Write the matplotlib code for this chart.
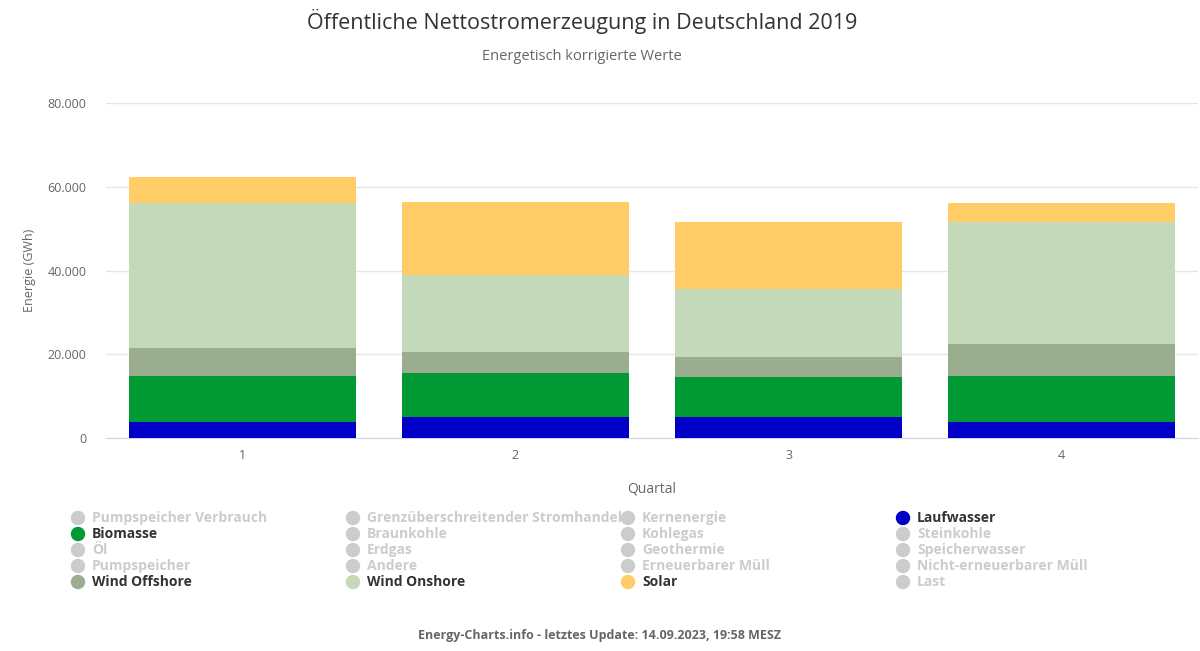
import matplotlib
matplotlib.use("Agg")
import matplotlib.pyplot as plt
from matplotlib.ticker import FuncFormatter
import numpy as np

quartale = ["1", "2", "3", "4"]
laufwasser = [3800, 5000, 5000, 3800]
biomasse = [11000, 10500, 9600, 11000]
wind_offshore = [6700, 5000, 4700, 7600]
wind_onshore = [34600, 18400, 16300, 29200]
solar = [6200, 17500, 16000, 4500]

series = [("Laufwasser", laufwasser, "#0000c8"),
          ("Biomasse", biomasse, "#009933"),
          ("Wind Offshore", wind_offshore, "#9aad8e"),
          ("Wind Onshore", wind_onshore, "#c3d9b9"),
          ("Solar", solar, "#ffcc66")]

legend_rows = [
    ["Pumpspeicher Verbrauch", "Grenzüberschreitender Stromhandel", "Kernenergie", "Laufwasser"],
    ["Biomasse", "Braunkohle", "Kohlegas", "Steinkohle"],
    ["Öl", "Erdgas", "Geothermie", "Speicherwasser"],
    ["Pumpspeicher", "Andere", "Erneuerbarer Müll", "Nicht-erneuerbarer Müll"],
    ["Wind Offshore", "Wind Onshore", "Solar", "Last"],
]
active = {n: c for n, _, c in series}

W, H = 1200, 651
fig = plt.figure(figsize=(W/100, H/100), dpi=100)
plt.rcParams['font.family'] = ['Open Sans', 'DejaVu Sans']
ax = fig.add_axes([106/W, 1-438/H, (1198-106)/W, (438-103)/H])
x = np.arange(1, 5)
bottom = np.zeros(4)
for name, vals, col in series:
    ax.bar(x, vals, 0.83, bottom=bottom, color=col, zorder=3)
    bottom += np.array(vals)
ax.set_xlim(0.5, 4.5)
ax.set_ylim(0, 80000)
ax.set_yticks([0, 20000, 40000, 60000, 80000])
ax.yaxis.set_major_formatter(FuncFormatter(lambda v, p: f"{int(v):,}".replace(",", ".")))
ax.set_xticks(x)
ax.set_xticklabels(quartale)
ax.grid(axis='y', color='#e6e6e6', lw=1, zorder=0)
for s in ['top', 'right', 'left']:
    ax.spines[s].set_visible(False)
ax.spines['bottom'].set_color('#ccd6eb')
ax.tick_params(axis='y', length=0, labelsize=9, colors='#666666', pad=14)
ax.tick_params(axis='x', length=0, labelsize=9, colors='#666666', pad=8)
ax.set_xlabel("Quartal", fontsize=10, color='#666666', labelpad=14)
ax.set_ylabel("Energie (GWh)", fontsize=9, color='#666666', labelpad=8)

fig.text(0.485, 1-22/H, "Öffentliche Nettostromerzeugung in Deutschland 2019", ha='center', va='center', fontsize=15.5, color='#333333')
fig.text(0.485, 1-56/H, "Energetisch korrigierte Werte", ha='center', va='center', fontsize=10.5, color='#666666')

cols_x = [78, 353, 628, 903]
rows_y = [518, 534, 550, 566, 582]
for r, row in enumerate(legend_rows):
    for c, name in enumerate(row):
        col = active.get(name, '#cccccc')
        tcol = '#333333' if name in active else '#cccccc'
        fig.patches.append(matplotlib.patches.Circle((cols_x[c]/W, 1-rows_y[r]/H), 6.5/W * 1.0,
                           transform=fig.transFigure, color=col, figure=fig))
        fig.text((cols_x[c]+14)/W, 1-rows_y[r]/H, name, ha='left', va='center',
                 fontsize=10, fontweight='bold', color=tcol)
# fix circle aspect
for p in fig.patches:
    p.set_transform(matplotlib.transforms.Affine2D().scale(W, H) + matplotlib.transforms.IdentityTransform())
    p.set_transform(fig.dpi_scale_trans)
for i, p in enumerate(fig.patches):
    r, c = divmod(i, 4)
    p.center = (cols_x[c]/100, (H-rows_y[r])/100)
    p.radius = 0.065

fig.text(0.5, 1-636/H, "Energy-Charts.info - letztes Update: 14.09.2023, 19:58 MESZ", ha='center', va='center', fontsize=9, fontweight='bold', color='#666666')
fig.savefig("out.png", dpi=100)
